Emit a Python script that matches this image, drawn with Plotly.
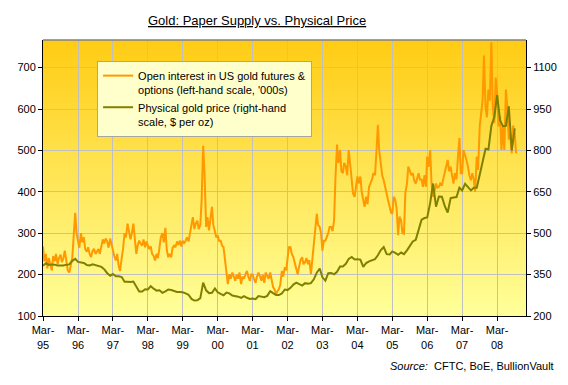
import pandas as pd
import plotly.graph_objects as go

# ---------------- data ----------------
# Open interest in US gold futures & options ('000s), semi-monthly (1st & 15th), Mar-1995 .. Sep-2008
oi_1995 = [268, 232, 250, 215, 240, 228, 210, 245, 232, 250, 225, 240, 248, 230, 240, 258, 235, 210, 205, 225]
oi_1996 = [240, 290, 349, 300, 282, 265, 300, 278, 290, 262, 255, 266, 250, 242, 258, 262, 250, 255, 262, 250, 270, 285, 275, 287]
oi_1997 = [280, 265, 287, 270, 255, 245, 234, 250, 220, 209, 240, 262, 300, 290, 323, 300, 285, 300, 323, 290, 250, 270, 282, 275]
oi_1998 = [270, 285, 266, 280, 272, 262, 268, 250, 245, 234, 250, 240, 265, 290, 300, 278, 313, 260, 242, 250, 242, 265, 270, 266]
oi_1999 = [280, 272, 282, 268, 282, 275, 282, 290, 280, 300, 320, 339, 310, 323, 330, 310, 320, 380, 511, 445, 315, 339, 307, 340]
oi_2000 = [364, 320, 299, 290, 295, 282, 282, 270, 266, 240, 201, 177, 201, 190, 205, 195, 185, 200, 190, 205, 177, 195, 190, 200]
oi_2001 = [209, 195, 185, 200, 200, 190, 180, 195, 205, 197, 185, 200, 180, 205, 197, 190, 205, 185, 170, 165, 153, 160, 165, 175]
oi_2002 = [209, 195, 218, 210, 235, 266, 266, 250, 242, 230, 209, 201, 220, 235, 242, 225, 230, 240, 225, 235, 201, 240, 280, 307]
oi_2003 = [347, 320, 315, 299, 258, 282, 282, 290, 300, 315, 315, 305, 330, 431, 514, 470, 501, 450, 445, 470, 461, 440, 501, 470]
oi_2004 = [420, 396, 388, 410, 437, 420, 437, 400, 380, 364, 388, 370, 412, 420, 430, 445, 440, 493, 562, 500, 461, 440, 428, 410]
oi_2005 = [396, 380, 364, 350, 347, 388, 380, 360, 295, 340, 331, 300, 299, 396, 420, 461, 450, 440, 445, 428, 420, 435, 445, 430]
oi_2006 = [430, 412, 440, 412, 485, 460, 501, 420, 388, 400, 420, 410, 412, 420, 415, 430, 445, 460, 477, 450, 461, 440, 420, 445]
oi_2007 = [430, 480, 530, 445, 445, 501, 490, 477, 461, 440, 428, 445, 430, 400, 485, 453, 558, 590, 620, 729, 607, 580, 647, 620]
oi_2008 = [761, 607, 566, 676, 639, 558, 583, 501, 558, 501, 647, 607, 526, 542, 493, 560, 540, 493]

# Physical gold price ($ per oz), monthly, Mar-1995 .. Sep-2008
gold_1995 = [382, 391, 385, 387, 386, 383, 383, 383, 386, 387]
gold_1996 = [400, 407, 396, 393, 392, 385, 383, 387, 383, 381, 378, 369]
gold_1997 = [355, 346, 352, 344, 344, 341, 324, 324, 323, 325, 306, 289]
gold_1998 = [289, 297, 296, 308, 299, 292, 293, 284, 289, 296, 294, 291]
gold_1999 = [287, 287, 286, 282, 277, 262, 256, 257, 265, 321, 293, 283]
gold_2000 = [284, 300, 286, 280, 275, 285, 282, 274, 273, 270, 266, 272]
gold_2001 = [266, 262, 263, 261, 272, 270, 268, 273, 290, 283, 276, 276]
gold_2002 = [282, 296, 294, 302, 314, 321, 314, 310, 319, 317, 319, 333]
gold_2003 = [357, 372, 340, 328, 355, 356, 351, 360, 379, 379, 389, 407]
gold_2004 = [414, 405, 406, 404, 378, 392, 398, 401, 406, 420, 439, 450]
gold_2005 = [424, 423, 434, 429, 422, 430, 424, 438, 457, 470, 476, 510]
gold_2006 = [549, 555, 557, 610, 680, 596, 633, 632, 598, 575, 627, 629]
gold_2007 = [631, 665, 655, 679, 667, 655, 665, 665, 712, 754, 806, 803]
gold_2008 = [889, 922, 1000, 909, 888, 889, 960, 800, 880]

tick_years = list(range(1995, 2009))
tick_labels = ["Mar-<br>%02d" % (y % 100) for y in tick_years]

oi_values = (oi_1995 + oi_1996 + oi_1997 + oi_1998 + oi_1999 + oi_2000 + oi_2001
             + oi_2002 + oi_2003 + oi_2004 + oi_2005 + oi_2006 + oi_2007 + oi_2008)
gold_values = (gold_1995 + gold_1996 + gold_1997 + gold_1998 + gold_1999 + gold_2000 + gold_2001
               + gold_2002 + gold_2003 + gold_2004 + gold_2005 + gold_2006 + gold_2007 + gold_2008)

oi_dates = pd.date_range("1995-03-01", periods=len(oi_values), freq="SMS")
gold_dates = pd.date_range("1995-03-01", periods=len(gold_values), freq="MS")
tick_vals = [pd.Timestamp(y, 3, 1) for y in tick_years]

FONT = "Liberation Sans, Arial, sans-serif"

fig = go.Figure()
fig.add_trace(go.Scatter(
    x=oi_dates, y=oi_values, mode="lines",
    name="Open interest in US gold futures &<br>options (left-hand scale, '000s)",
    line=dict(color="#FF9900", width=2), yaxis="y"))
fig.add_trace(go.Scatter(
    x=gold_dates, y=gold_values, mode="lines",
    name="Physical gold price (right-hand<br>scale, $ per oz)",
    line=dict(color="#808000", width=2), yaxis="y2"))

# gradient plot-area background (gold at top -> pale yellow at bottom)
shapes = []
n_bands = 92
top_rgb = (255, 204, 20)
bot_rgb = (255, 255, 153)
for i in range(n_bands):
    f = i / (n_bands - 1)
    c = tuple(round(top_rgb[k] + (bot_rgb[k] - top_rgb[k]) * f) for k in range(3))
    y1 = 1 - i / n_bands
    y0 = 1 - (i + 1) / n_bands
    shapes.append(dict(type="rect", xref="paper", yref="paper", x0=0, x1=1, y0=y0, y1=y1,
                       fillcolor="rgb(%d,%d,%d)" % c, line=dict(width=0), layer="below"))
# grey top border of plot area
shapes.append(dict(type="line", xref="paper", yref="paper", x0=0, x1=1, y0=1, y1=1,
                   line=dict(color="#808080", width=1.5), layer="above"))

fig.update_layout(
    width=568, height=385,
    margin=dict(l=43, r=42, t=40, b=69, pad=0),
    paper_bgcolor="white",
    plot_bgcolor="rgba(0,0,0,0)",
    font=dict(family=FONT, size=11, color="black"),
    shapes=shapes,
    showlegend=True,
    legend=dict(x=0.112, y=0.924, xanchor="left", yanchor="top",
                bgcolor="#FFFFCC", bordercolor="#A6A6A6", borderwidth=1,
                font=dict(family=FONT, size=11, color="black"),
                valign="top", tracegroupgap=4, traceorder="normal"),
    xaxis=dict(type="date", range=["1995-03-01", "2008-12-28"],
               tickmode="array", tickvals=tick_vals, ticktext=tick_labels,
               ticks="outside", ticklen=4, tickcolor="black", tickwidth=1,
               showline=True, linecolor="black", linewidth=1,
               showgrid=True, gridcolor="#C0C0C0", gridwidth=1,
               zeroline=False, automargin=False, tickangle=0),
    yaxis=dict(range=[100, 766.667], tickmode="array",
               tickvals=[100, 200, 300, 400, 500, 600, 700],
               ticks="outside", ticklen=4, tickcolor="black",
               showline=True, linecolor="black", linewidth=1,
               showgrid=True, gridcolor="#C0C0C0", gridwidth=1,
               zeroline=False, automargin=False),
    yaxis2=dict(range=[200, 1200], overlaying="y", side="right", tickmode="array",
                tickvals=[200, 350, 500, 650, 800, 950, 1100],
                ticks="outside", ticklen=4, tickcolor="black",
                showline=True, linecolor="black", linewidth=1,
                showgrid=False, zeroline=False, automargin=False),
    annotations=[
        dict(text="<u>Gold: Paper Supply vs. Physical Price</u>", xref="paper", yref="paper",
             x=0.443, y=1.072, xanchor="center", yanchor="middle", showarrow=False,
             font=dict(family=FONT, size=13, color="black")),
        dict(text="<i>Source:</i>  CFTC, BoE, BullionVault", xref="paper", yref="paper",
             x=1.062, y=-0.181, xanchor="right", yanchor="middle", showarrow=False,
             font=dict(family=FONT, size=11, color="black")),
    ],
)

fig.write_html("out.html",
               config={"displayModeBar": False},
               post_script="document.body.style.margin='0px';document.body.style.overflow='hidden';")
